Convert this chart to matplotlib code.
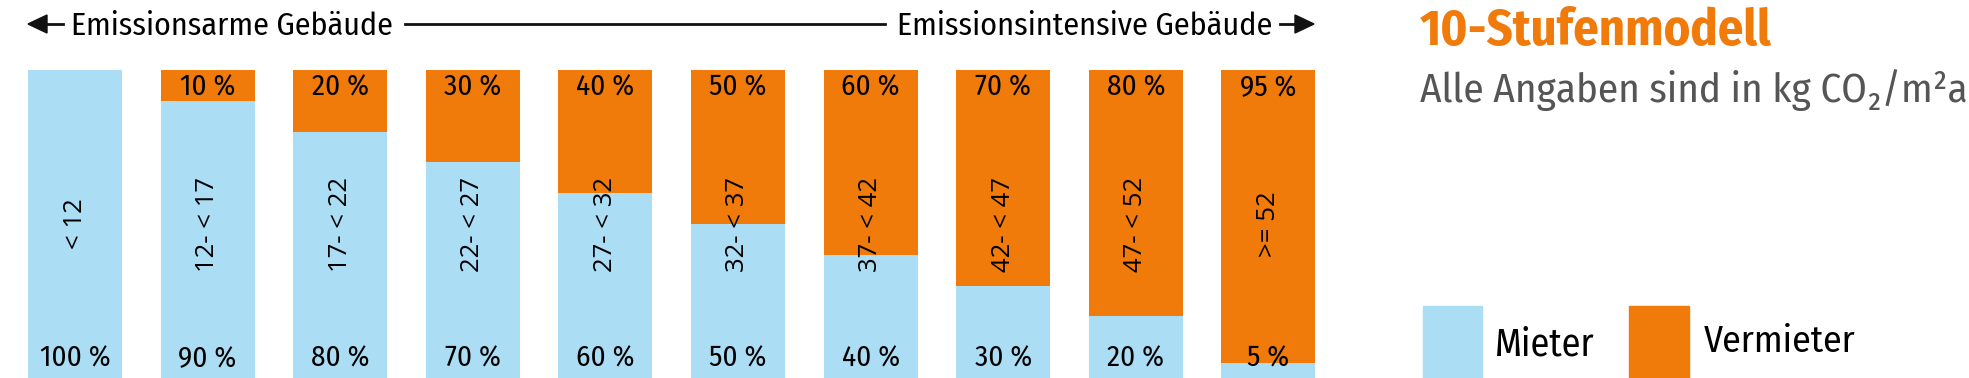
import matplotlib
matplotlib.use("Agg")
import matplotlib.pyplot as plt
from matplotlib.patches import Rectangle

# data
ranges = ["< 12", "12- < 17", "17- < 22", "22- < 27", "27- < 32",
          "32- < 37", "37- < 42", "42- < 47", "47- < 52", ">= 52"]
mieter = [100, 90, 80, 70, 60, 50, 40, 30, 20, 5]
vermieter = [0, 10, 20, 30, 40, 50, 60, 70, 80, 95]

blue = "#abddf4"
orange = "#f07a0a"
fira = ["Fira Sans Condensed", "DejaVu Sans"]

W, H = 1969, 378
fig = plt.figure(figsize=(W / 100, H / 100), dpi=100)
renderer = fig.canvas.get_renderer()


def fit(t, width_px):
    # scale font so the text is as wide as in the reference
    w = t.get_window_extent(renderer).width
    t.set_fontsize(t.get_fontsize() * width_px / w)


# bar axes: pitch 132.6 px, first bar centre at 75 px, 100% top at y=70 px
pitch = 132.6
left = 75 - pitch / 2
ax = fig.add_axes([left / W, 0, 10 * pitch / W, (H - 70) / H])
ax.set_xlim(-0.5, 9.5)
ax.set_ylim(0, 100)
ax.axis("off")

x = range(len(ranges))
ax.bar(x, mieter, width=0.71, color=blue, edgecolor="none")
ax.bar(x, vermieter, bottom=mieter, width=0.71, color=orange, edgecolor="none")

for i in x:
    ax.text(i, 3.6, f"{mieter[i]} %", ha="center", va="baseline", fontsize=21,
            family=fira)
    if vermieter[i] > 0:
        ax.text(i, 91.6, f"{vermieter[i]} %", ha="center", va="baseline",
                fontsize=21, family=fira)
    ax.text(i, 50, ranges[i], ha="center", va="center", rotation=90,
            fontsize=18.5, family=["Open Sans", "DejaVu Sans"])

# header with arrows
fy = 1 - 24 / H
fb = 1 - 35 / H
t = fig.text(71 / W, fb, "Emissionsarme Gebäude", ha="left", va="baseline",
             fontsize=23, family=fira)
fit(t, 322)
t = fig.text(1272 / W, fb, "Emissionsintensive Gebäude", ha="right", va="baseline",
             fontsize=23, family=fira)
fit(t, 375)
fig.add_artist(plt.Line2D([405 / W, 885 / W], [fy, fy], color="#111111", lw=2))
fig.add_artist(plt.Line2D([45 / W, 63 / W], [fy, fy], color="#111111", lw=2))
fig.add_artist(plt.Line2D([1280 / W, 1298 / W], [fy, fy], color="#111111", lw=2))
fig.patches.append(plt.Polygon([[28 / W, fy], [47 / W, fy + 9 / H], [47 / W, fy - 9 / H]],
                               closed=True, color="#111111", transform=fig.transFigure))
fig.patches.append(plt.Polygon([[1314 / W, fy], [1295 / W, fy + 9 / H], [1295 / W, fy - 9 / H]],
                               closed=True, color="#111111", transform=fig.transFigure))

# title
t = fig.text(1420 / W, 1 - 45 / H, "10-Stufenmodell", ha="left", va="baseline",
             fontsize=34, fontweight="bold", color=orange, family=fira)
fit(t, 352)
t = fig.text(1420 / W, 1 - 102 / H, "Alle Angaben sind in kg CO₂/m²a", ha="left",
             va="baseline", fontsize=28, color="#555555", family=fira)
fit(t, 548)

# legend
fig.patches.append(Rectangle((1423 / W, 0), 59 / W, (378 - 306) / H, color=blue,
                             transform=fig.transFigure))
fig.patches.append(Rectangle((1629 / W, 0), 60 / W, (378 - 306) / H, color=orange,
                             transform=fig.transFigure))
t = fig.text(1495 / W, 1 - 355 / H, "Mieter", ha="left", va="baseline", fontsize=28,
             family=fira)
fit(t, 100)
t = fig.text(1704 / W, 1 - 352 / H, "Vermieter", ha="left", va="baseline", fontsize=28,
             family=fira)
fit(t, 152)

fig.savefig("out.png", dpi=100)
